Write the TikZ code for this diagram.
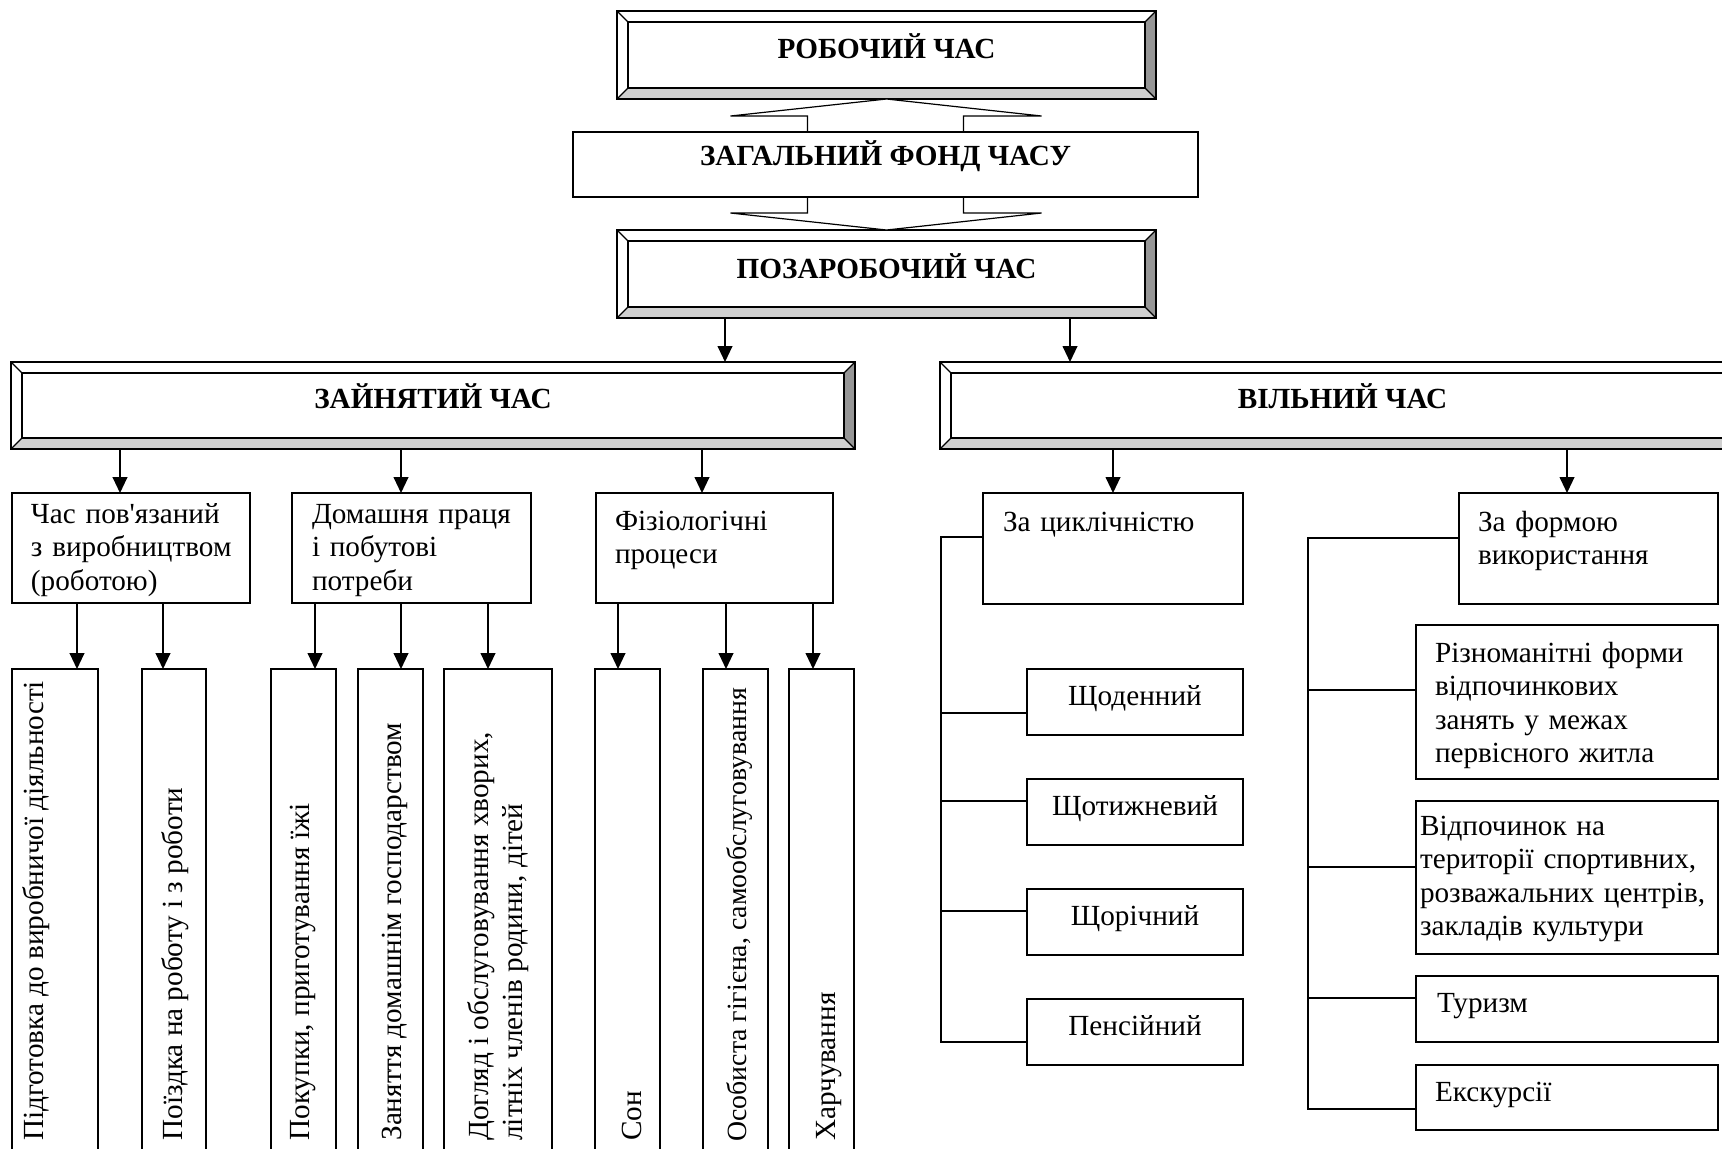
\documentclass[tikz,border=0pt]{standalone}
\usepackage{fontspec}
\setmainfont{Liberation Serif}[Ligatures=TeXOff]
\usepackage{tikz}
\usetikzlibrary{arrows.meta,calc,positioning}
\definecolor{grisClaro}{RGB}{208,208,208}
\definecolor{grisMedio}{RGB}{150,150,150}
\newcommand{\txt}{\fontsize{14.6}{16.8}\selectfont}
\tikzstyle{edge}  =[-{Triangle[length=8pt,width=7.4pt]}, line width=0.8pt]
\tikzstyle{link}  =[line width=0.8pt]
\tikzstyle{bevbox}=[draw, fill=white, line width=1pt, outer sep=0pt,
                    inner sep=0pt, font=\txt\bfseries]
\tikzstyle{tbox}  =[draw, fill=white, line width=1pt, outer sep=0pt,
                    inner ysep=0pt, anchor=north west, align=left, font=\txt]
\tikzstyle{vbox}  =[draw, line width=1pt, outer sep=0pt, inner sep=0pt,
                    anchor=north west, minimum height=250.5pt]
\tikzstyle{vtext} =[rotate=90, anchor=base west, inner sep=0pt,
                    align=left, font=\txt]
\newcommand{\bevel}[1]{%
    \fill[grisClaro] (#1.south west) -- (#1.south east)
        -- ($(#1.south east)+(-11,-11)$) -- ($(#1.south west)+(11,-11)$) -- cycle;
    \fill[grisMedio] (#1.south east) -- (#1.north east)
        -- ($(#1.north east)+(-11,11)$) -- ($(#1.south east)+(-11,-11)$) -- cycle;
    \draw[line width=1pt] (#1.north west) rectangle (#1.south east)
        ($(#1.north west)+(11,11)$) rectangle ($(#1.south east)+(-11,-11)$);
    \draw[line width=0.6pt] (#1.north west) -- ++(11,11)
        (#1.north east) -- ++(-11,11) (#1.south west) -- ++(11,-11)
        (#1.south east) -- ++(-11,-11);}

\begin{document}
\begin{tikzpicture}[x=0.5pt,y=-0.5pt]
    \useasboundingbox (0,0) rectangle (1722,1148);
    \clip (0,0) rectangle (1722,1148);

    \node[bevbox, minimum width=269.5pt, minimum height=44pt,
        text height=10pt, text depth=7pt] (rob) at (886.5,55) {РОБОЧИЙ ЧАС};
    \node[bevbox, minimum width=269.5pt, minimum height=44pt,
        text height=10pt, text depth=6pt] (pz) at (886.5,274) {ПОЗАРОБОЧИЙ ЧАС};
    \node[bevbox, minimum width=422pt, minimum height=43.5pt,
        text height=10pt, text depth=7.5pt] (za) at (433,405.5) {ЗАЙНЯТИЙ ЧАС};
    \node[bevbox, minimum width=402.5pt, minimum height=43.5pt,
        text height=10pt, text depth=7.5pt] (vi) at (1342.5,405.5) {ВІЛЬНИЙ ЧАС};
    \foreach \n in {rob,pz,za,vi}
        \bevel{\n};

    \draw[fill=white, line width=0.6pt] (rob.south)
        -- ($(rob.south)+(155,17)$) -- ($(rob.south)+(77,17)$)
        -- ($(pz.north)+(77,-17)$) -- ($(pz.north)+(155,-17)$) -- (pz.north)
        -- ($(pz.north)+(-156,-17)$) -- ($(pz.north)+(-79,-17)$)
        -- ($(rob.south)+(-79,17)$) -- ($(rob.south)+(-156,17)$) -- cycle;
    \node[bevbox, minimum width=312.5pt, minimum height=32.5pt,
        text height=10pt, text depth=9.5pt] (zag) at (885.5,164.5) {ЗАГАЛЬНИЙ ФОНД ЧАСУ};

    \node[tbox, inner xsep=9.5pt, text width=100pt, text height=15pt, text depth=40pt]
        (b1) at (12,493) {Час пов'язаний\\\mbox{з виробництвом}\\(роботою)};
    \node[tbox, inner xsep=10pt, text width=99.5pt, text height=15pt, text depth=40pt]
        (b2) at (292,493) {Домашня праця\\і побутові\\потреби};
    \node[tbox, inner xsep=9.5pt, text width=99.5pt, text height=18.5pt, text depth=36.5pt]
        (b3) at (596,493) {Фізіологічні\\процеси};

    \foreach \n/\l/\w in {v1/12/43pt,v2/142/32pt,v3/271/32.5pt,v4/358/32.5pt,
        v5/444/54pt,v6/595/32.5pt,v7/703/32.5pt,v8/789/32.5pt}
        \node[vbox, minimum width=\w] (\n) at (\l,669) {};

    \node[vtext] (t1) at (43,1141) {Підготовка до виробничої діяльності};
    \node[vtext] (t2) at (182,1141) {Поїздка на роботу і з роботи};
    \node[vtext] (t3) at (309,1141) {Покупки, приготування їжі};
    \node[vtext] (t4) at (401,1141) {Заняття домашнім господарством};
    \node[vtext] (t5) at (522,1141) {Догляд і обслуговування хворих,\\літніх членів родини, дітей};
    \node[vtext] (t6) at (641,1141) {Сон};
    \node[vtext, font=\fontsize{13.9}{16}\selectfont] (t7) at (746,1142)
        {Особиста гігієна, самообслуговування};
    \node[vtext] (t8) at (835,1141) {Харчування};

    \node[tbox, inner xsep=10pt, text width=110pt, text height=19pt, text depth=36.5pt]
        (cyc) at (983,493) {За циклічністю};
    \node[tbox, inner xsep=9.5pt, text width=110.5pt, text height=19pt, text depth=36.5pt]
        (form) at (1459,493) {За формою\\використання};

    \foreach \n/\y/\s in {d1/669/Щоденний,d2/779/Щотижневий,d3/889/Щорічний,d4/999/Пенсійний}
        \node[tbox, align=center, inner xsep=0pt, text width=108pt,
            text height=18pt, text depth=15pt] (\n) at (1027,\y) {\s};

    \node[tbox, inner xsep=9.5pt, text width=132pt, text height=18.5pt, text depth=58.5pt]
        (r1) at (1416,625) {Різноманітні форми\\відпочинкових\\занять у межах\\первісного житла};
    \node[tbox, inner xsep=2pt, text width=147pt, text height=17pt, text depth=59.5pt]
        (r2) at (1416,801) {Відпочинок на\\території спортивних,\\розважальних центрів,\\закладів культури};
    \node[tbox, inner xsep=10.5pt, text width=130pt, text height=18pt, text depth=15pt]
        (r3) at (1416,976) {Туризм};
    \node[tbox, inner xsep=9.5pt, text width=132pt, text height=18pt, text depth=14.5pt]
        (r4) at (1416,1065) {Екскурсії};

    \foreach \x/\b in {725/za,1070/vi}
        \draw[edge] (\x,0 |- pz.south) -- (\x,0 |- \b.north);
    \foreach \x/\b in {120/b1,401/b2,702/b3}
        \draw[edge] (\x,0 |- za.south) -- (\x,0 |- \b.north);
    \foreach \x/\b in {1113/cyc,1567/form}
        \draw[edge] (\x,0 |- vi.south) -- (\x,0 |- \b.north);
    \foreach \x/\a/\b in {77/b1/v1,163/b1/v2,315/b2/v3,401/b2/v4,488/b2/v5,
        618/b3/v6,726/b3/v7,813/b3/v8}
        \draw[edge] (\x,0 |- \a.south) -- (\x,0 |- \b.north);

    \coordinate (lbr) at (941,537);
    \coordinate (rbr) at (1308,538);
    \draw[link] (cyc.west |- lbr) -- (lbr) -- (lbr |- 0,1042) -- (d4.west |- 0,1042);
    \foreach \n/\y in {d1/713,d2/801,d3/911}
        \draw[link] (lbr |- 0,\y) -- (\n.west |- 0,\y);
    \draw[link] (form.west |- rbr) -- (rbr) -- (rbr |- 0,1109) -- (r4.west |- 0,1109);
    \foreach \n/\y in {r1/690,r2/867,r3/998}
        \draw[link] (rbr |- 0,\y) -- (\n.west |- 0,\y);
\end{tikzpicture}
\end{document}
